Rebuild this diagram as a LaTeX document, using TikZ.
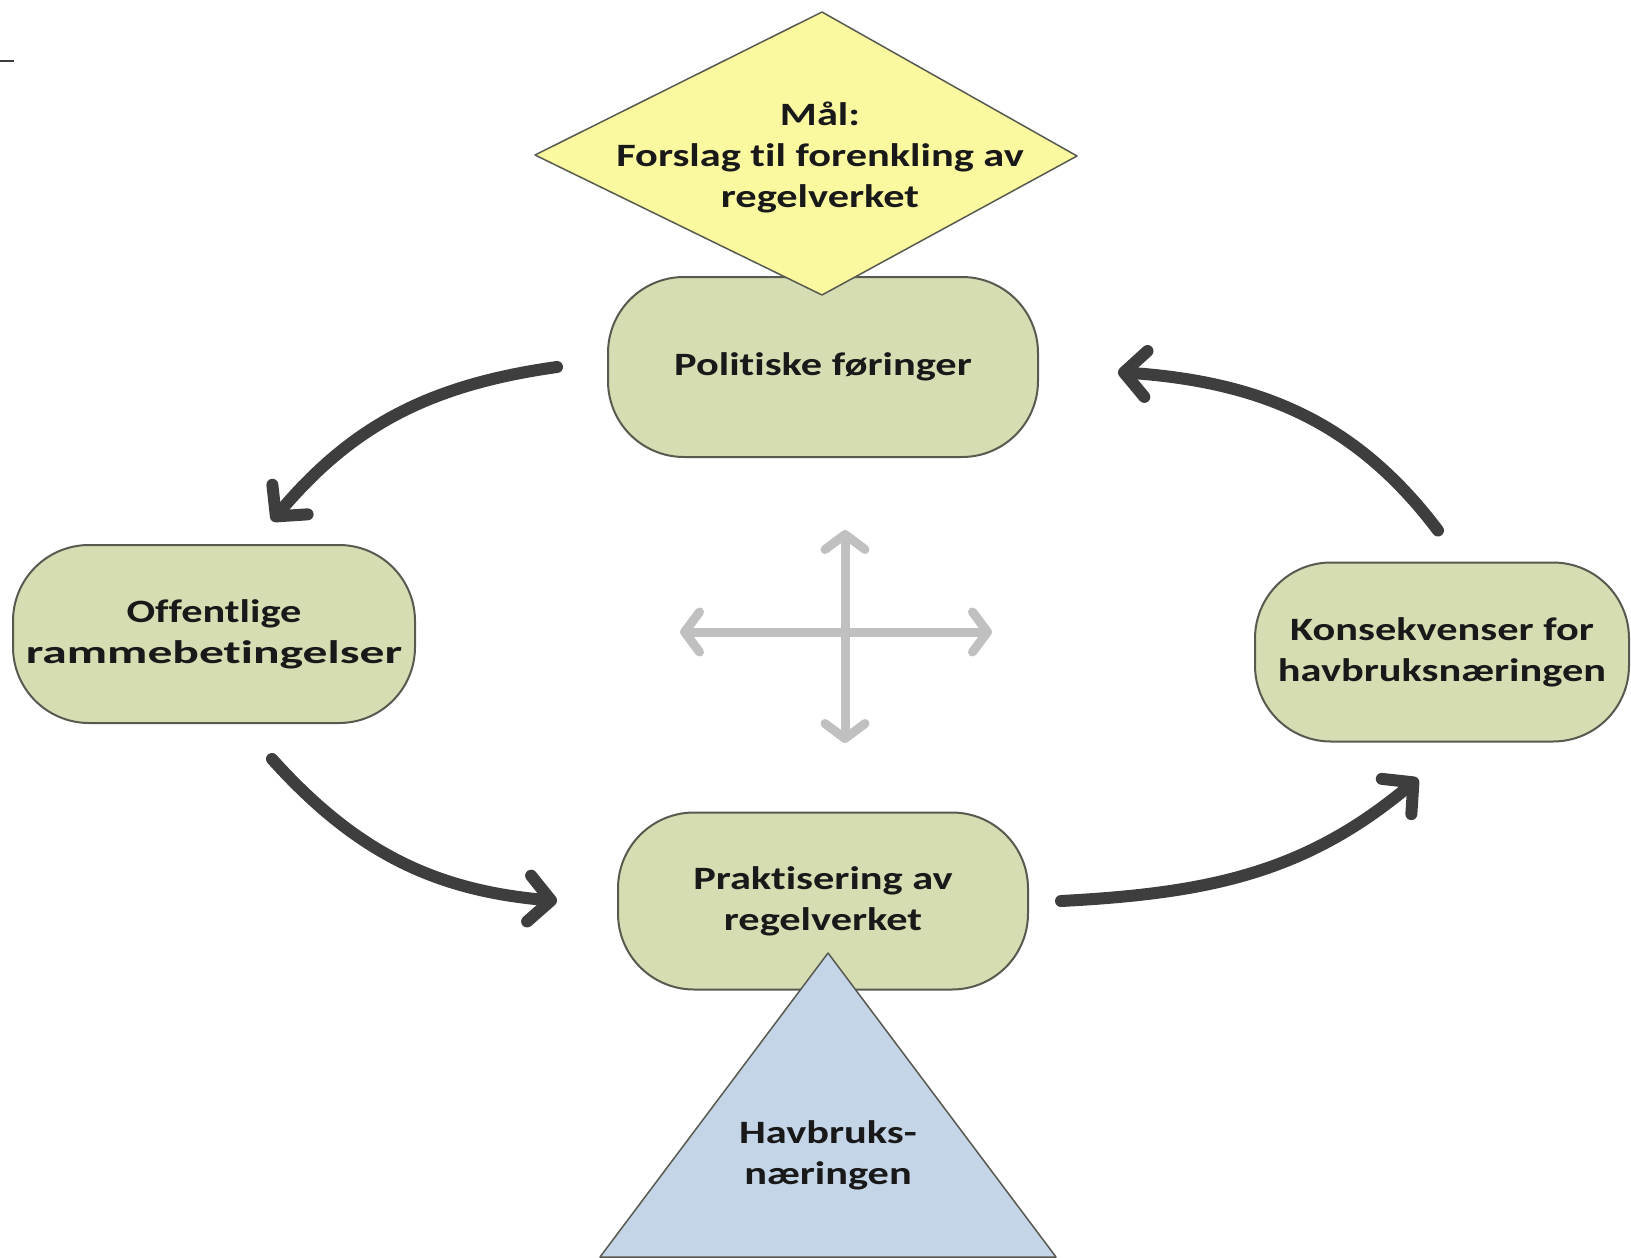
\documentclass[tikz,border=0pt]{standalone}
\usepackage{fontspec}
\usepackage{graphicx}
\setmainfont{Carlito}[FakeStretch=1.3,Ligatures=NoCommon]
\usetikzlibrary{arrows.meta,calc}
\definecolor{boxgreen}{RGB}{214,221,179}
\definecolor{goalyellow}{RGB}{250,249,160}
\definecolor{baseblue}{RGB}{197,213,232}
\definecolor{edgegray}{RGB}{88,90,80}
\definecolor{flowgray}{RGB}{62,62,62}
\definecolor{crossgray}{RGB}{192,192,192}
\tikzstyle{every node}=[font=\bfseries\fontsize{32.6}{41}\selectfont,text=black!90,align=center]
\tikzstyle{stage}=[draw=edgegray,line width=2pt,fill=boxgreen,rounded corners=76pt,inner sep=0pt]
\tikzstyle{goal}=[draw=edgegray,line width=1.5pt,fill=goalyellow,line join=round]
\tikzstyle{base}=[draw=edgegray,line width=1.5pt,fill=baseblue,line join=round]
\tikzstyle{flow}=[line width=12pt,color=flowgray,line cap=round,-{Straight Barb[length=22pt,width=46pt,round]}]
\tikzstyle{cross}=[line width=9pt,color=crossgray,line cap=round,{Straight Barb[length=15pt,width=40pt,round]}-{Straight Barb[length=15pt,width=40pt,round]}]

\begin{document}
\begin{tikzpicture}[x=1pt,y=-1pt]
\useasboundingbox (0,0) rectangle (1631,1258);
\draw[line width=2.5pt,color=flowgray] (0,61) -- (14,61);

%stages
\node[stage,minimum width=430pt,minimum height=180pt] (pol) at (823,367) {Politiske føringer};
\node[stage,minimum width=402pt,minimum height=178pt] (off) at (214,634) {Offentlige\\\scalebox{1.17}[1]{rammebetingelser}};
\node[stage,minimum width=410pt,minimum height=177pt] (prak) at (823,901) {Praktisering av\\regelverket};
\node[stage,minimum width=374pt,minimum height=179pt] (kons) at (1442,652) {Konsekvenser for\\havbruksnæringen};

%goal and base
\coordinate (goalN) at (822,12);
\coordinate (goalE) at (1077,156);
\coordinate (goalS) at (822,295);
\coordinate (goalW) at (535,155);
\draw[goal] (goalN) -- (goalE) -- (goalS) -- (goalW) -- cycle;
\node (goaltext) at (820,157) {Mål:\\Forslag til forenkling av\\regelverket};
\coordinate (apex) at (828,953);
\coordinate (baseL) at (600,1257);
\coordinate (baseR) at (1056,1257);
\draw[base] (apex) -- (baseL) -- (baseR) -- cycle;
\node (havbruk) at (828,1155) {Havbruks-\\næringen};

%cycle
\draw[flow] ([xshift=-50pt]pol.west) to[out=188,in=50] ([xshift=58pt,yshift=23pt]off.north);
\draw[flow] ([xshift=58pt,yshift=-35pt]off.south) to[out=-48,in=175] ([xshift=-60pt]prak.west);
\draw[flow] ([xshift=32pt]prak.east) to[out=3,in=220] ([xshift=-24pt,yshift=-36pt]kons.south);
\draw[flow] ([xshift=-4pt,yshift=31pt]kons.north) to[out=127,in=-4] ([xshift=79pt,yshift=-5pt]pol.east);

%cross
\coordinate (crossN) at (845,530);
\coordinate (crossS) at (845,743);
\coordinate (crossW) at (680,632);
\coordinate (crossE) at (992,632);
\draw[cross] (crossN) -- (crossS);
\draw[cross] (crossW) -- (crossE);
\end{tikzpicture}
\end{document}
